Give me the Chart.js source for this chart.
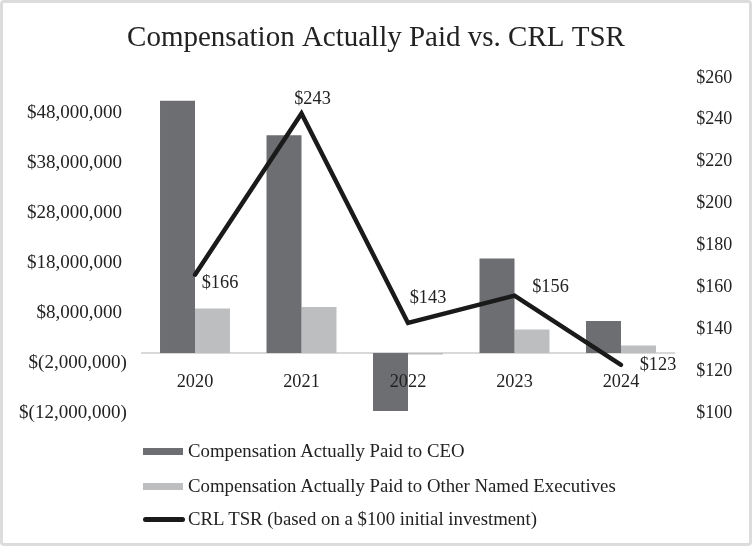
<!DOCTYPE html>
<html>
<head>
<meta charset="utf-8">
<script src="https://cdn.jsdelivr.net/npm/chart.js@4"></script>
<style>
  body { margin: 0; background: #fff; }
  #wrap { position: relative; width: 752px; height: 546px; overflow: hidden; }
  #frame { position: absolute; left: 0; top: 0; width: 752px; height: 546px; box-sizing: border-box;
           border: 3px solid #dcdcdc; border-radius: 4px; pointer-events: none; }
  canvas { position: absolute; left: 0; top: 0; }
  .leg { position: absolute; left: 0; top: 0; font-family: 'Liberation Serif', serif; font-size: 18.8px; color: #222; }
  .leg .mk { position: absolute; }
  .leg .tx { position: absolute; left: 188px; white-space: nowrap; line-height: 20px; }
</style>
</head>
<body>
<div id="wrap">
  <canvas id="chart" width="752" height="546"></canvas>
  <div class="leg" id="legend"></div>
  <div id="frame"></div>
</div>
<script>
// Data
const years = ['2020', '2021', '2022', '2023', '2024'];
const ceoPay = [50400000, 43500000, -11600000, 18900000, 6400000];
const otherPay = [8900000, 9200000, -300000, 4700000, 1500000];
const tsr = [166, 243, 143, 156, 123];
const leftTicks = [-12000000, -2000000, 8000000, 18000000, 28000000, 38000000, 48000000];
const rightTicks = [100, 120, 140, 160, 180, 200, 220, 240, 260];
const seriesNames = [
    'Compensation Actually Paid to CEO',
    'Compensation Actually Paid to Other Named Executives',
    'CRL TSR (based on a $100 initial investment)'
];

const serif = 'Liberation Serif';
const ink = '#222222';
const ceoColor = '#6d6e71';
const otherColor = '#bcbec0';
const lineColor = '#1a1a1a';

// where each TSR label sits relative to its point
const labelShift = [[25, 8], [11, -14], [20, -25], [36, -8], [37, 0]];

function money(v) {
    if (v < 0) return '$(' + Math.abs(v).toLocaleString('en-US') + ')';
    return '$' + v.toLocaleString('en-US') + ' ';
}

// Draw the $ values next to the TSR line
const tsrLabels = {
    id: 'tsrLabels',
    afterDatasetsDraw(chart) {
        const meta = chart.getDatasetMeta(2);
        const ctx = chart.ctx;
        ctx.save();
        ctx.font = '18.3px "' + serif + '"';
        ctx.fillStyle = ink;
        ctx.textAlign = 'center';
        ctx.textBaseline = 'middle';
        meta.data.forEach((pt, i) => {
            ctx.fillText('$' + tsr[i], pt.x + labelShift[i][0], pt.y + labelShift[i][1]);
        });
        ctx.restore();
    }
};

const chart = new Chart(document.getElementById('chart'), {
    type: 'bar',
    data: {
        labels: years,
        datasets: [
            {
                label: seriesNames[0],
                data: ceoPay,
                backgroundColor: ceoColor,
                yAxisID: 'y',
                order: 1,
                barPercentage: 1,
                categoryPercentage: 0.657
            },
            {
                label: seriesNames[1],
                data: otherPay,
                backgroundColor: otherColor,
                yAxisID: 'y',
                order: 1,
                barPercentage: 1,
                categoryPercentage: 0.657
            },
            {
                type: 'line',
                label: seriesNames[2],
                data: tsr,
                borderColor: lineColor,
                borderWidth: 4.5,
                borderCapStyle: 'round',
                pointRadius: 0,
                tension: 0,
                yAxisID: 'y1',
                order: 0
            }
        ]
    },
    options: {
        responsive: false,
        animation: false,
        layout: { padding: { left: 0, right: 0, top: 0, bottom: 133 } },
        plugins: {
            legend: { display: false },
            tooltip: { enabled: false },
            title: {
                display: true,
                text: 'Compensation Actually Paid vs. CRL TSR',
                color: ink,
                font: { family: serif, size: 29, weight: 'normal' },
                padding: { top: 21, bottom: 22 }
            }
        },
        scales: {
            x: {
                position: { y: 0 },
                grid: { display: false, drawTicks: false },
                border: { display: true, color: '#d9d9d9', width: 2 },
                ticks: { z: 1, color: ink, font: { family: serif, size: 18.3 }, padding: 18, maxRotation: 0 }
            },
            y: {
                position: 'left',
                min: -12000000,
                max: 55000000,
                grid: { display: false, drawTicks: false },
                border: { display: false },
                afterBuildTicks: s => { s.ticks = leftTicks.map(v => ({ value: v })); },
                afterFit: s => { s.width = 141.75; },
                ticks: {
                    color: ink,
                    font: { family: serif, size: 19 },
                    padding: 15,
                    callback: v => money(v)
                }
            },
            y1: {
                position: 'right',
                min: 100,
                max: 260,
                grid: { display: false, drawTicks: false },
                border: { display: false },
                afterBuildTicks: s => { s.ticks = rightTicks.map(v => ({ value: v })); },
                afterFit: s => { s.width = 77.75; },
                ticks: {
                    color: ink,
                    font: { family: serif, size: 18 },
                    padding: 22,
                    callback: v => '$' + v
                }
            }
        }
    },
    plugins: [tsrLabels]
});

// Legend below the chart, one entry per row
const legend = document.getElementById('legend');
const rows = [
    { y: 451, mark: { left: 143, width: 40, height: 7, bg: ceoColor, radius: 0 } },
    { y: 486, mark: { left: 143, width: 40, height: 7, bg: otherColor, radius: 0 } },
    { y: 519, mark: { left: 143, width: 42, height: 5, bg: lineColor, radius: 3 } }
];
rows.forEach((r, i) => {
    const mk = document.createElement('div');
    mk.className = 'mk';
    mk.style.left = r.mark.left + 'px';
    mk.style.top = (r.y - r.mark.height / 2) + 'px';
    mk.style.width = r.mark.width + 'px';
    mk.style.height = r.mark.height + 'px';
    mk.style.background = r.mark.bg;
    mk.style.borderRadius = r.mark.radius + 'px';
    legend.appendChild(mk);

    const tx = document.createElement('div');
    tx.className = 'tx';
    tx.style.top = (r.y - 10) + 'px';
    tx.textContent = seriesNames[i];
    legend.appendChild(tx);
});
</script>
</body>
</html>
